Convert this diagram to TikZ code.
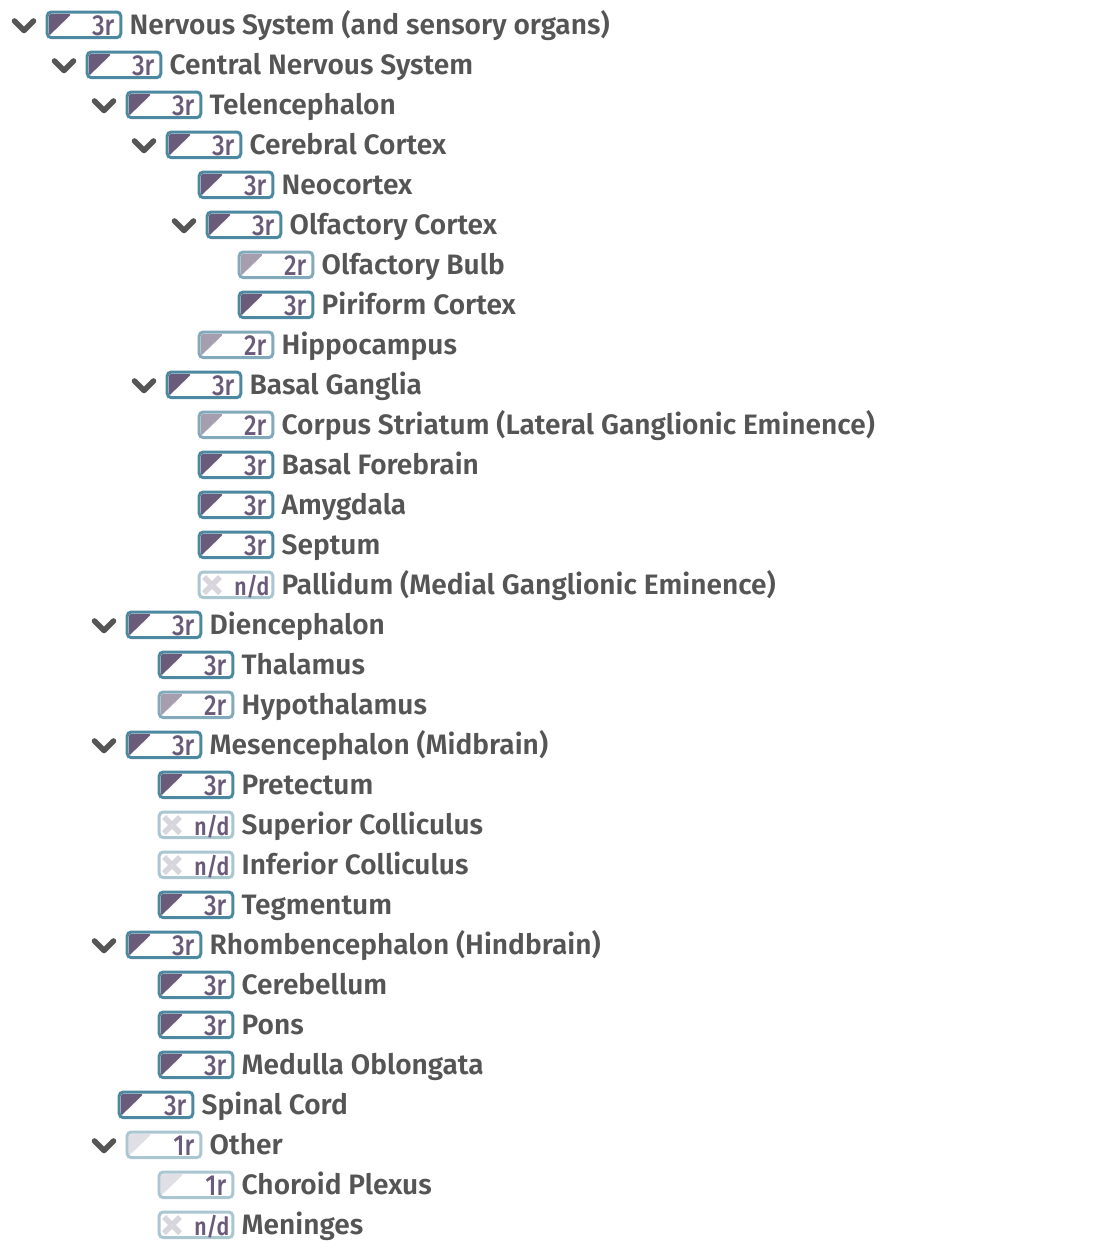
\documentclass[tikz,border=0pt]{standalone}
\usepackage{fontspec}
\setmainfont{Fira Sans SemiBold}
\newfontfamily\tagfont[FakeStretch=.85]{Fira Sans Medium}
\newfontfamily\nodatafont[FakeStretch=.85]{Fira Sans SemiBold}
\usetikzlibrary{positioning}
\definecolor{ink}{HTML}{555555}
\definecolor{plum}{HTML}{6B5B7B}
\definecolor{teal3}{HTML}{4C88A0}
\definecolor{teal2}{HTML}{82AABB}
\definecolor{teal1}{HTML}{A9C6D1}
\definecolor{fill3}{HTML}{6B5B7B}
\definecolor{fill2}{HTML}{A69DAF}
\definecolor{fill1}{HTML}{E1DEE5}
\definecolor{filln}{HTML}{D9D5DD}
\tikzset{
  badge/.style={anchor=west,rounded corners=4,line width=3,inner sep=0,minimum width=73.6,minimum height=25.6},
  badge3/.style={badge,draw=teal3},
  badge2/.style={badge,draw=teal2},
  badge1/.style={badge,draw=teal1},
  badgen/.style={badge,draw=teal1},
  tagtext/.style={anchor=base east,inner sep=0,text=plum,font=\tagfont\fontsize{29}{29}\selectfont},
  rowlabel/.style={inner sep=0,text height=21,text depth=1.6,text=ink,font=\fontsize{28.1}{28.1}\selectfont},
  chevron/.style={draw=ink,line width=5.6,line join=round,line cap=round},
  pics/mark3/.style={code={\fill[fill3,rounded corners=1.5] (3.3,-10.6)--(25.6,-10.6)--(3.3,11)--cycle;}},
  pics/mark2/.style={code={\fill[fill2,rounded corners=1.5] (3.3,-10.6)--(25.6,-10.6)--(3.3,11)--cycle;}},
  pics/mark1/.style={code={\fill[fill1,rounded corners=1.5] (3.3,-10.6)--(25.6,-10.6)--(3.3,11)--cycle;}},
  pics/markn/.style={code={\draw[filln,line width=5.5] (6.3,-7.8)--(22.3,8.2) (6.3,8.2)--(22.3,-7.8);}},
}
\begin{document}
\begin{tikzpicture}[x=1pt,y=-1pt]
  \useasboundingbox (0,0) rectangle (1118,1248);
  % tree rows
  \foreach \i/\x/\k/\t in {
    0/45.7/3/{Nervous System (and sensory organs)},
    1/85.7/3/{Central Nervous System},
    2/125.7/3/{Telencephalon},
    3/165.7/3/{Cerebral Cortex},
    4/197.7/3/{Neocortex},
    5/205.7/3/{Olfactory Cortex},
    6/237.7/2/{Olfactory Bulb},
    7/237.7/3/{Piriform Cortex},
    8/197.7/2/{Hippocampus},
    9/165.7/3/{Basal Ganglia},
    10/197.7/2/{Corpus Striatum (Lateral Ganglionic Eminence)},
    11/197.7/3/{Basal Forebrain},
    12/197.7/3/{Amygdala},
    13/197.7/3/{Septum},
    14/197.7/n/{Pallidum (Medial Ganglionic Eminence)},
    15/125.7/3/{Diencephalon},
    16/157.7/3/{Thalamus},
    17/157.7/2/{Hypothalamus},
    18/125.7/3/{Mesencephalon (Midbrain)},
    19/157.7/3/{Pretectum},
    20/157.7/n/{Superior Colliculus},
    21/157.7/n/{Inferior Colliculus},
    22/157.7/3/{Tegmentum},
    23/125.7/3/{Rhombencephalon (Hindbrain)},
    24/157.7/3/{Cerebellum},
    25/157.7/3/{Pons},
    26/157.7/3/{Medulla Oblongata},
    27/117.7/3/{Spinal Cord},
    28/125.7/1/{Other},
    29/157.7/1/{Choroid Plexus},
    30/157.7/n/{Meninges}}{
    \node[badge\k] (b\i) at (\x,24.8+40*\i) {};
    \pic at (b\i.west) {mark\k};
    \node[tagtext] (g\i) at ([shift={(-7.8,10.2)}]b\i.east)
      {\if\k n\nodatafont\fontsize{25}{25}\selectfont n/d\kern-3pt\else\k r\fi};
    \node[rowlabel,right=7.2 of b\i] (t\i) {\t};
  }
  % open branches
  \foreach \i in {0,1,2,3,5,9,15,18,23,28}
    \draw[chevron] ([shift={(-31.2,-3.8)}]b\i.west)--([shift={(-21.7,5.7)}]b\i.west)--([shift={(-12.2,-3.8)}]b\i.west);
\end{tikzpicture}
\end{document}
